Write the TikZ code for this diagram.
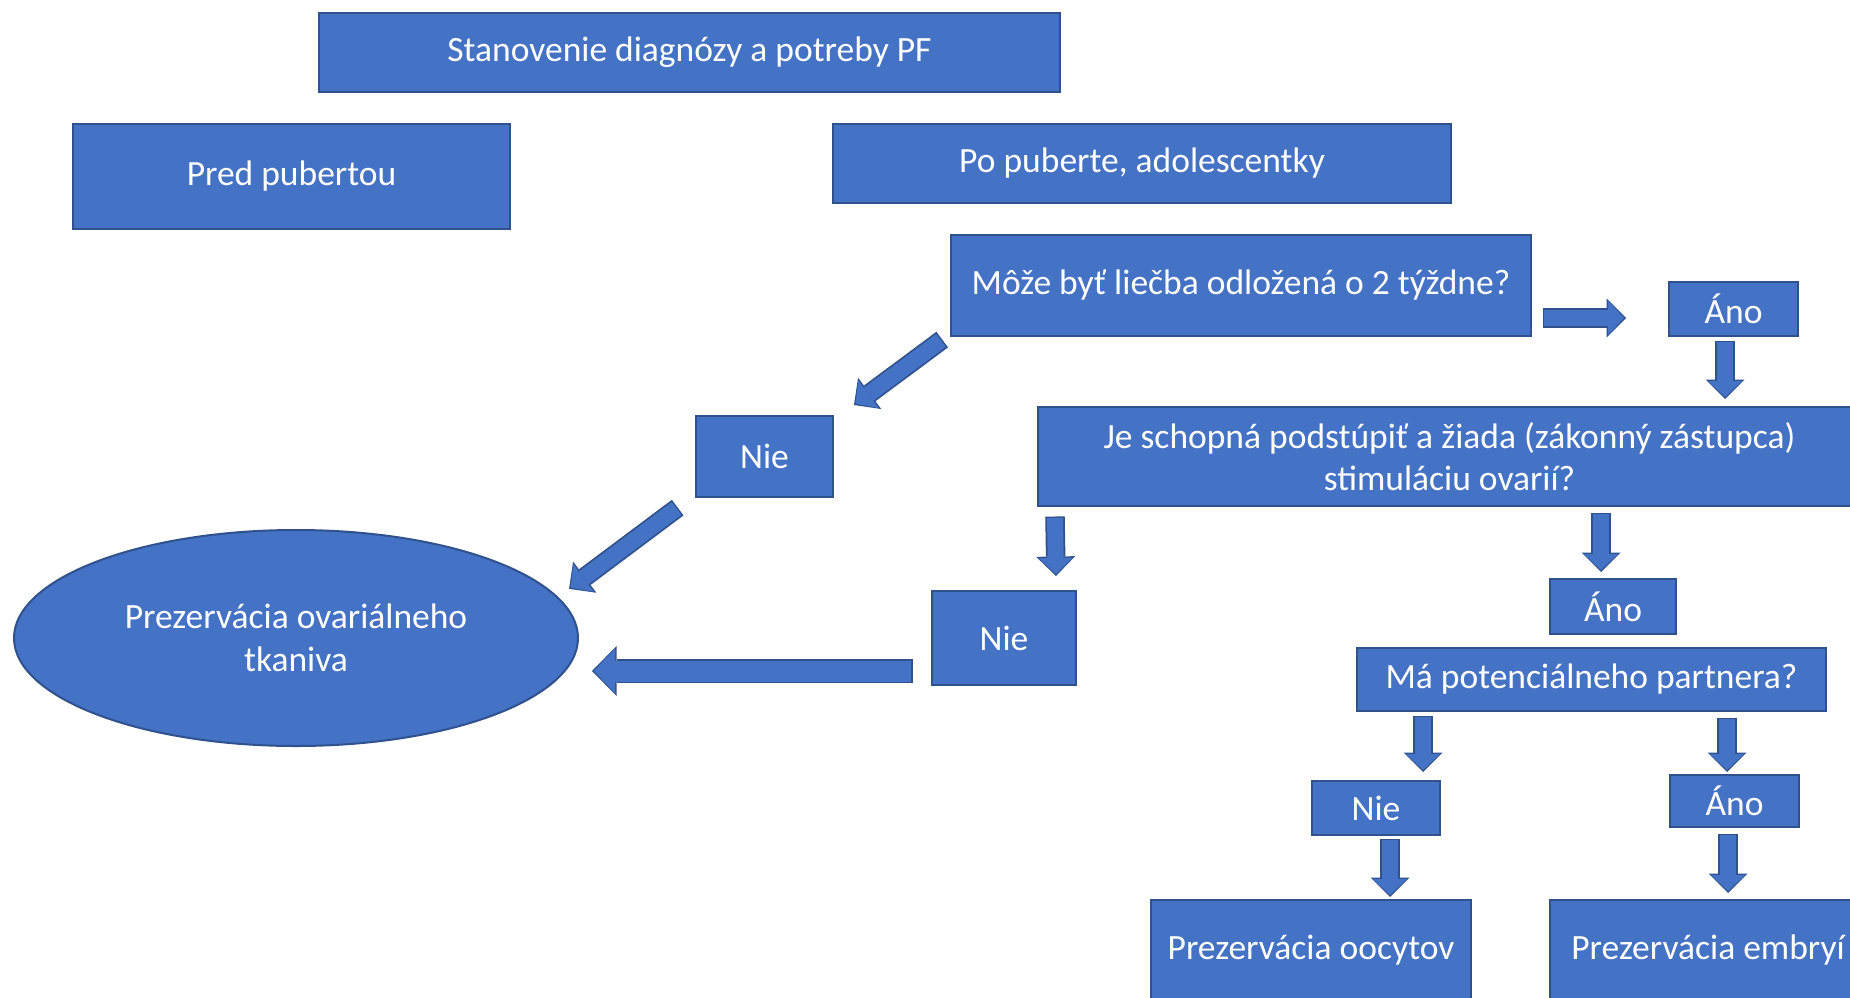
\documentclass[tikz,border=0pt]{standalone}
\usepackage{fontspec}
\setmainfont{Carlito}
\usetikzlibrary{shapes.geometric,arrows.meta,calc}
\definecolor{modra}{HTML}{4472C4}
\definecolor{okraj}{HTML}{2F528F}
\begin{document}
\begin{tikzpicture}[x=1pt,y=-1pt,
    blok/.style ={rectangle, draw=okraj, line width=2pt, fill=modra, text=white, inner sep=0pt, align=center, font=\fontsize{35.5}{42}\selectfont},
    elipsa/.style ={ellipse, draw=okraj, line width=2pt, fill=modra, text=white, inner sep=0pt, align=center, font=\fontsize{35.5}{43}\selectfont},
    sipka/.style ={draw=modra, line width=16pt, -{Triangle[length=16pt,width=34pt,sep=2pt,line width=0pt]},
        preaction={draw=okraj, line width=19.5pt, -{Triangle[length=19.5pt,width=39pt,line width=0pt]}, shorten <=-1.5pt}},
    velkasipka/.style ={draw=modra, line width=21pt, -{Triangle[length=21pt,width=45pt,sep=2pt,line width=0pt]},
        preaction={draw=okraj, line width=24.5pt, -{Triangle[length=24.5pt,width=50pt,line width=0pt]}, shorten <=-1.5pt}}]
   \path[use as bounding box, clip] (0,0) rectangle (1850,998);
   \node[blok, minimum width=741pt, minimum height=79pt]  (diag)    at (689.5,52.5)  {Stanovenie diagnózy a potreby PF};
   \node[blok, minimum width=437pt, minimum height=105pt] (pred)    at (291.5,176.5) {Pred pubertou};
   \node[blok, minimum width=618pt, minimum height=79pt]  (po)      at (1142,163.5)  {Po puberte, adolescentky};
   \node[blok, minimum width=580pt, minimum height=101pt] (moze)    at (1241,285.5)  {Môže byť liečba odložená o 2 týždne?};
   \node[blok, minimum width=129pt, minimum height=54pt]  (ano1)    at (1733.5,309)  {Áno};
   \node[blok, minimum width=823pt, minimum height=99pt]  (schopna) at (1449.5,456.5) {Je schopná podstúpiť a žiada (zákonný zástupca)\\stimuláciu ovarií?};
   \node[blok, minimum width=137pt, minimum height=81pt]  (nie1)    at (764.5,456.5) {Nie};
   \node[elipsa, minimum width=564pt, minimum height=216pt] (tkanivo) at (296,638)  {Prezervácia ovariálneho\\tkaniva};
   \node[blok, minimum width=144pt, minimum height=94pt]  (nie2)    at (1004,638)    {Nie};
   \node[blok, minimum width=126pt, minimum height=55pt]  (ano2)    at (1613,606.5)  {Áno};
   \node[blok, minimum width=469pt, minimum height=63pt]  (partner) at (1591.5,679.5) {Má potenciálneho partnera?};
   \node[blok, minimum width=128pt, minimum height=54pt]  (nie3)    at (1376,808)    {Nie};
   \node[blok, minimum width=129pt, minimum height=52pt]  (ano3)    at (1734.5,801)  {Áno};
   \node[blok, minimum width=320pt, minimum height=100pt] (oocyty)  at (1311,950)    {Prezervácia oocytov};
   \node[blok, minimum width=316pt, minimum height=100pt] (embryo)  at (1708,950)    {Prezervácia embryí};
   \draw[sipka] ([shift={(12,32.5)}]moze.east) -- ([shift={(-42,9)}]ano1.west);
   \draw[sipka] ([shift={(-8.5,5)}]ano1.south) -- ($(ano1.south |- schopna.north)+(-8.5,-7)$);
   \draw[sipka] ([shift={(-9,3.5)}]moze.south west) -- ([shift={(20,-10)}]nie1.north east);
   \draw[sipka] ([shift={(-18.5,10.5)}]nie1.south west) -- ([shift={(15.8,-3.8)}]tkanivo.10);
   \draw[sipka] ([shift={(18,11)}]schopna.south west) -- ([shift={(52,-14)}]nie2.north);
   \draw[velkasipka] ([shift={(-20,33)}]nie2.west) -- ([shift={(13,33)}]tkanivo.east);
   \draw[sipka] ($(ano2.north |- schopna.south)+(-12,7)$) -- ([shift={(-12,-6)}]ano2.north);
   \draw[sipka] ($(nie3.north |- partner.south)+(47,5)$) -- ([shift={(47,-8)}]nie3.north);
   \draw[sipka] ($(ano3.north |- partner.south)+(-7.5,7)$) -- ([shift={(-7.5,-2)}]ano3.north);
   \draw[sipka] ([shift={(14,4)}]nie3.south) -- ($(nie3.south |- oocyty.north)+(14,-2)$);
   \draw[sipka] ([shift={(-6.5,7)}]ano3.south) -- ($(ano3.south |- embryo.north)+(-6.5,-6)$);
 \end{tikzpicture}
\end{document}
